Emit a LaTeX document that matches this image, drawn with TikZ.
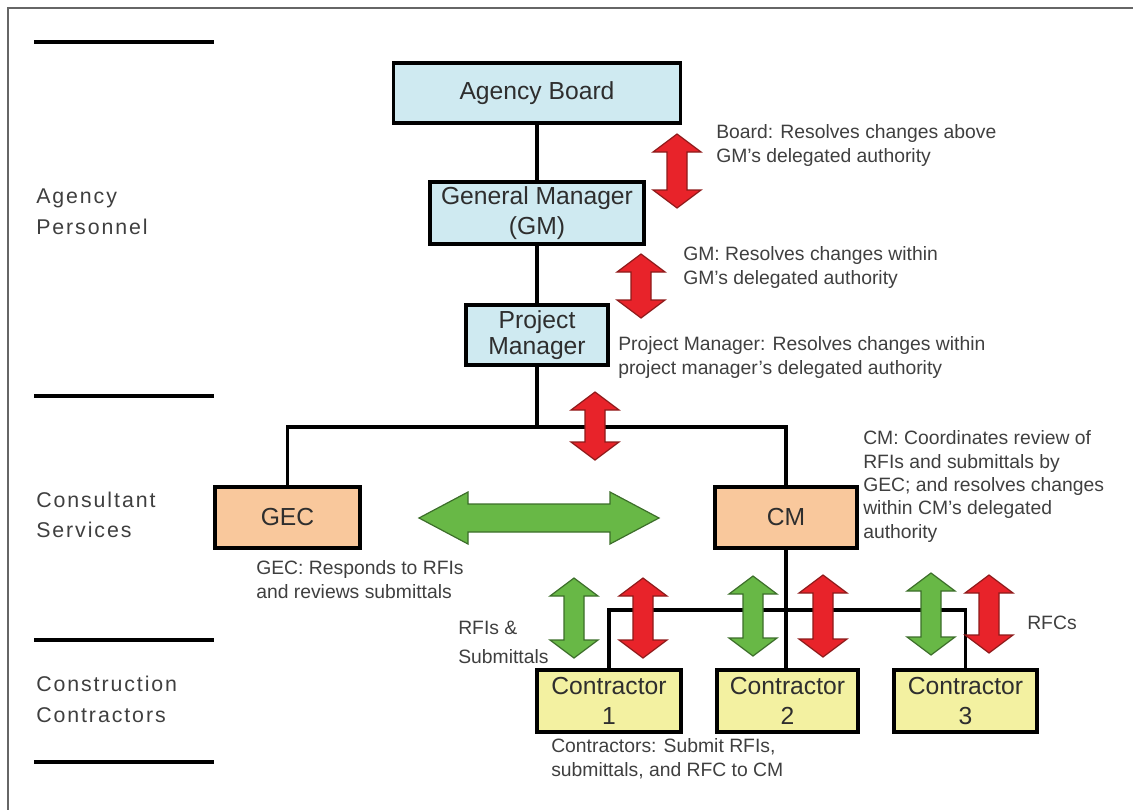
\documentclass[tikz,border=0pt]{standalone}
\usepackage{fontspec}
\setmainfont{Liberation Sans}
\definecolor{boxblue}{HTML}{CFEAF1}
\definecolor{boxpeach}{HTML}{F9C89C}
\definecolor{boxyellow}{HTML}{F3F1A1}
\definecolor{arrred}{HTML}{E8232A}
\definecolor{arrredline}{HTML}{8E1A1A}
\definecolor{arrgreen}{HTML}{68B846}
\definecolor{arrgreenline}{HTML}{3C6E2A}
\definecolor{inkgray}{HTML}{3F3F3F}
\definecolor{boxink}{HTML}{2E2E2E}
\definecolor{framegray}{HTML}{666666}
\begin{document}
\begin{tikzpicture}[x=0.75pt,y=-0.75pt,
  box/.style={draw=black, line width=2.8pt, inner sep=0pt, align=center,
    font=\fontsize{18.5}{22}\selectfont, text=boxink},
  bluebox/.style={box, fill=boxblue},
  peachbox/.style={box, fill=boxpeach},
  yellowbox/.style={box, fill=boxyellow},
  note/.style={anchor=west, align=left, inner sep=0pt,
    font=\fontsize{14.5}{18}\selectfont, text=inkgray},
  tier/.style={anchor=west, align=left, inner sep=0pt,
    font={\fontsize{16}{23}\selectfont\addfontfeature{LetterSpace=9}}, text=inkgray},
  link/.style={line width=2.6pt},
  tierrule/.style={line width=3pt},
  redarr/.style={fill=arrred, draw=arrredline, line width=0.9pt},
  greenarr/.style={fill=arrgreen, draw=arrgreenline, line width=0.9pt},
  pics/vdbl/.style 2 args={code={
    \path[#2] (0,-#1) -- (24,-#1+18) -- (10,-#1+18) -- (10,#1-18) -- (24,#1-18)
      -- (0,#1) -- (-24,#1-18) -- (-10,#1-18) -- (-10,-#1+18) -- (-24,-#1+18) -- cycle;}},
  pics/hdbl/.style 2 args={code={
    \path[#2] (-#1,0) -- (-#1+49,-26) -- (-#1+49,-14) -- (#1-49,-14) -- (#1-49,-26)
      -- (#1,0) -- (#1-49,26) -- (#1-49,14) -- (-#1+49,14) -- (-#1+49,26) -- cycle;}}
]
\useasboundingbox (0,0) rectangle (1133,810);

% frame along the top and left edges
\coordinate (fbl) at (8,810);
\coordinate (ftl) at (8,8);
\coordinate (ftr) at (1133,8);
\draw[framegray, line width=1pt] (fbl) -- (ftl) -- (ftr);

% tier separators and tier names
\foreach \ry [count=\i] in {42,396,640,762}{
  \coordinate (rl\i) at (34,\ry);
  \coordinate (rr\i) at (214,\ry);
  \draw[tierrule] (rl\i) -- (rr\i);
}
\node[tier] (t1) at (36,211.5) {Agency\\Personnel};
\node[tier] (t2) at (36,515) {Consultant\\Services};
\node[tier] (t3) at (36,699.5) {Construction\\Contractors};

% organisation boxes
\node[bluebox, minimum width=215.25pt, minimum height=45pt] (ab) at (537,93) {Agency Board};
\node[bluebox, minimum width=160.5pt, minimum height=46.5pt] (gm) at (537,213) {General Manager\\(GM)};
\node[bluebox, minimum width=106.5pt, minimum height=45pt,
  font=\fontsize{18.5}{19.5}\selectfont] (pm) at (537,335) {Project\\Manager};
\node[peachbox, minimum width=108.75pt, minimum height=45.75pt] (gec) at (287.5,517.5) {GEC};
\node[peachbox, minimum width=106.5pt, minimum height=45.75pt] (cm) at (786,517.5) {CM};
\node[yellowbox, minimum width=108pt, minimum height=46.5pt] (c1) at (609,701) {Contractor\\1};
\node[yellowbox, minimum width=105.75pt, minimum height=46.5pt] (c2) at (787.5,701) {Contractor\\2};
\node[yellowbox, minimum width=107.25pt, minimum height=46.5pt] (c3) at (965.5,701) {Contractor\\3};

% reporting lines
\coordinate (bar) at (537,427);
\coordinate (cbar) at (786,610);
\draw[link] (ab.south) -- (gm.north);
\draw[link] (gm.south) -- (pm.north);
\draw[link] (pm.south) -- (bar);
\draw[link] (gec.north) |- (bar) -| (cm.north);
\draw[link] (cm.south) -- (cm.south |- c2.north);
\draw[link] (c1.north) |- (cbar) -| (c3.north);

% flow arrows
\pic at (677,171) {vdbl={37}{redarr}};
\pic at (641,286) {vdbl={32}{redarr}};
\pic at (595,426) {vdbl={34}{redarr}};
\pic at (539,518) {hdbl={120}{greenarr}};
\pic at (574,618) {vdbl={40}{greenarr}};
\pic at (643,618) {vdbl={40}{redarr}};
\pic at (753,616) {vdbl={40}{greenarr}};
\pic at (823,616) {vdbl={41}{redarr}};
\pic at (931,614) {vdbl={41}{greenarr}};
\pic at (989,614) {vdbl={39}{redarr}};

% annotations
\node[note] (nb) at (716,145.5) {Board: Resolves changes above\\GM's delegated authority};
\node[note] (ng) at (683,267.5) {GM: Resolves changes within\\GM's delegated authority};
\node[note] (np) at (618,357.5) {Project Manager: Resolves changes within\\project manager's delegated authority};
\node[note, font=\fontsize{14.5}{17.5}\selectfont] (nc) at (863,486.5)
  {CM: Coordinates review of\\RFIs and submittals by\\GEC; and resolves changes\\within CM's delegated\\authority};
\node[note] (ne) at (256,579.5) {GEC: Responds to RFIs\\and reviews submittals};
\node[note, font=\fontsize{14.5}{22}\selectfont] (nr) at (458,642.5) {RFIs \&\\Submittals};
\node[note] (nf) at (1027,623) {RFCs};
\node[note] (nk) at (551,759) {Contractors: Submit RFIs,\\submittals, and RFC to CM};
\end{tikzpicture}
\end{document}
